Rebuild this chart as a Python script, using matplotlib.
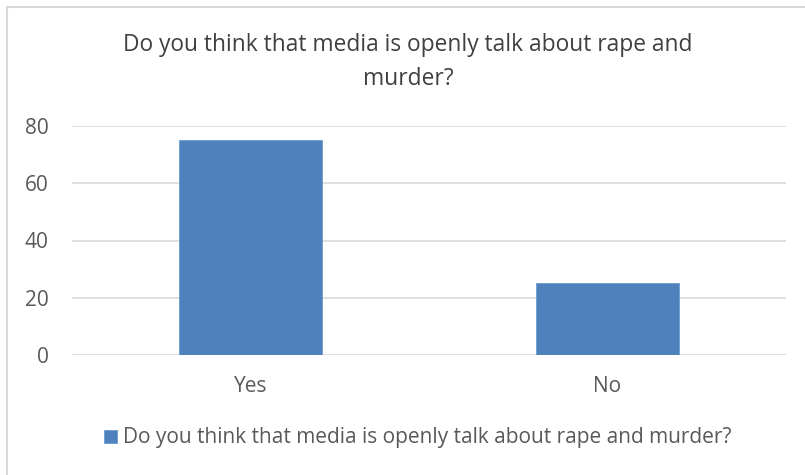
import matplotlib
matplotlib.use("Agg")
import matplotlib.pyplot as plt
from matplotlib.patches import Rectangle

categories = ["Yes", "No"]
values = [75, 25]
series_name = "Do you think that media is openly talk about rape and murder?"
title_text = "Do you think that media is openly talk about rape and\nmurder?"
y_ticks = [0, 20, 40, 60, 80]

W, H = 805, 475
fig = plt.figure(figsize=(W / 100, H / 100), dpi=100)
fig.patch.set_facecolor("white")

# chart frame
fig.add_artist(Rectangle((7 / W, -0.01), 1.05, (H - 7) / H + 0.01,
                         transform=fig.transFigure, fill=False,
                         edgecolor="#d9d9d9", linewidth=1.5))

font = "Open Sans"
bar_color = "#4f81bd"

ax = fig.add_axes([72 / W, (H - 355) / H, (786 - 72) / W, (355 - 126) / H])
x = list(range(len(categories)))
ax.bar(x, values, width=0.4, color=bar_color, edgecolor="#6d9ad1", linewidth=0.6,
       zorder=3, label=series_name)
ax.set_xlim(-0.5, len(categories) - 0.5)
ax.set_ylim(0, 80)
ax.set_yticks(y_ticks)
ax.set_xticks(x)
ax.set_xticklabels(categories)
ax.grid(axis="y", color="#d9d9d9", linewidth=1.2, zorder=0)
for s in ax.spines.values():
    s.set_visible(False)
ax.tick_params(length=0, labelsize=15, labelcolor="#595959")
ax.tick_params(axis="x", pad=15)
ax.tick_params(axis="y", pad=17)
for lab in ax.get_xticklabels() + ax.get_yticklabels():
    lab.set_fontfamily(font)

fig.text(408 / W, 1 - 62 / H, title_text, ha="center", va="center",
         fontsize=16.4, color="#404040", family=font, linespacing=1.55)

leg = fig.legend(loc="center", bbox_to_anchor=(418 / W, 1 - 438 / H),
                 frameon=False, handlelength=0.6, handleheight=0.6,
                 handletextpad=0.3, prop={"family": font, "size": 15})
for t in leg.get_texts():
    t.set_color("#595959")

fig.savefig("out.png", dpi=100, facecolor="white")
